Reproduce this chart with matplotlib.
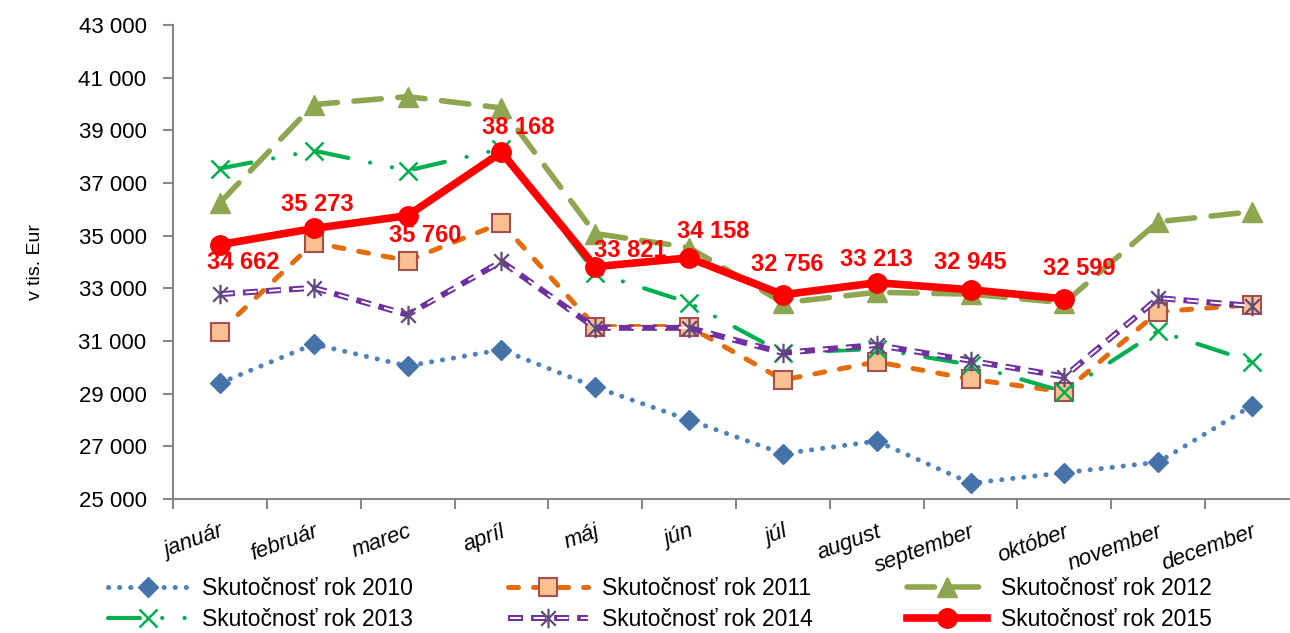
import matplotlib
matplotlib.use("Agg")
import matplotlib.pyplot as plt
from matplotlib.path import Path
from matplotlib.ticker import FuncFormatter, FixedLocator

plt.rcParams['font.family'] = ['Liberation Sans', 'DejaVu Sans']
plt.rcParams['lines.scale_dashes'] = False

months = ['január', 'február', 'marec', 'apríl', 'máj', 'jún', 'júl',
          'august', 'september', 'október', 'november', 'december']

rok_2010 = [29400, 30880, 30050, 30670, 29250, 28000, 26720, 27200, 25600, 26000, 26400, 28550]
rok_2011 = [31350, 34730, 34050, 35480, 31550, 31550, 29520, 30210, 29550, 29070, 32110, 32380]
rok_2012 = [36250, 39980, 40280, 39850, 35080, 34550, 32450, 32850, 32780, 32450, 35530, 35910]
rok_2013 = [37550, 38230, 37470, 38300, 33600, 32450, 30550, 30700, 30100, 29070, 31380, 30210]
rok_2014 = [32780, 33020, 32000, 34020, 31500, 31500, 30550, 30850, 30250, 29650, 32630, 32330]
rok_2015 = [34662, 35273, 35760, 38168, 33821, 34158, 32756, 33213, 32945, 32599]

yticks = list(range(25000, 43001, 2000))

# posun popiskov v pixeloch (dx, dy)
lab_off = [(23, -18), (4, 24), (18, -20), (17, 25), (35, 16),
           (24, 26), (4, 30), (0, 23), (0, 27), (15, 30)]


def fmt(v):
    return f"{int(v):,}".replace(",", " ")


fig = plt.figure(figsize=(12.9, 6.33), dpi=100)
ax = fig.add_axes([173/1290, 1 - 499/633, (1299 - 173)/1290, (499 - 25)/633])

x = list(range(12))

ax.plot(x, rok_2010, color='#4F81BD', lw=3.6, linestyle=(0, (0.1, 7.9)),
        dash_capstyle='round', marker='D', ms=9.8, mfc='#4572A7', mec='#4572A7',
        label='Skutočnosť rok 2010')
ax.plot(x, rok_2011, color='#E46C0A', lw=3.6, linestyle=(0, (7.2, 10.8)),
        dash_capstyle='round', marker='s', ms=12.5, mfc='#FAC090', mec='#A5504D', mew=1.5,
        label='Skutočnosť rok 2011')
ax.plot(x, rok_2012, color='#8DA64F', lw=4, linestyle=(0, (19.8, 11.9)),
        dash_capstyle='round', marker='^', ms=14, mfc='#8DA64F', mec='#8DA64F',
        label='Skutočnosť rok 2012')
ax.plot(x, rok_2013, color='#00B050', lw=3, linestyle=(0, (23, 16, 0.1, 16, 0.1, 16)),
        dash_capstyle='round', marker='x', ms=13, mew=1.8, mec='#00B050',
        label='Skutočnosť rok 2013')

star = Path([(-0.75, -0.75), (0.75, 0.75), (-0.75, 0.75), (0.75, -0.75), (0, -1), (0, 1)],
            [Path.MOVETO, Path.LINETO, Path.MOVETO, Path.LINETO, Path.MOVETO, Path.LINETO])
p14a, = ax.plot(x, rok_2014, color='#7030A0', lw=4.3, linestyle=(0, (10.8, 5.8)),
                dash_capstyle='butt')
p14b, = ax.plot(x, rok_2014, color='white', lw=1.4, linestyle=(15.56, (8.1, 8.9)),
                dash_capstyle='butt')
p14m, = ax.plot(x, rok_2014, linestyle='none', marker=star, ms=14, mew=1.6,
                mec='#604A7B', mfc='none')

h2015, = ax.plot(range(len(rok_2015)), rok_2015, color='#FF0000', lw=5.5, marker='o', ms=14,
                 mfc='#FF0000', mec='#FF0000', label='Skutočnosť rok 2015', zorder=5)

for i, v in enumerate(rok_2015):
    ax.annotate(fmt(v), (i, v), xytext=lab_off[i], textcoords='offset pixels',
                ha='center', va='center', color='#FF0000', fontsize=17,
                fontweight='bold', zorder=6)

ax.set_xlim(-0.5, 11.5)
ax.set_ylim(25000, 43000)
ax.set_yticks(yticks)
ax.yaxis.set_major_formatter(FuncFormatter(lambda v, p: fmt(v)))
ax.set_xticks(x)
ax.set_xticklabels(months, rotation=20, ha='right', va='top', rotation_mode='anchor',
                   fontsize=16, style='italic')
ax.xaxis.set_minor_locator(FixedLocator([i + 0.5 for i in range(-1, 12)]))
ax.tick_params(axis='x', which='major', length=0, pad=16)
ax.tick_params(axis='x', which='minor', length=7, width=1.5, color='#878787')
ax.tick_params(axis='y', length=7, width=1.5, color='#878787', labelsize=16, pad=12)

for s in ['top', 'right']:
    ax.spines[s].set_visible(False)
for s in ['left', 'bottom']:
    ax.spines[s].set_color('#878787')
    ax.spines[s].set_linewidth(1.5)

fig.text(35/1290, 1 - 262/633, 'v tis. Eur', rotation=90, ha='center', va='center',
         fontsize=14)

h = ax.get_lines()
handles = [h[0], h[3], h[1], (p14a, p14b, p14m), h[2], h2015]
labels = ['Skutočnosť rok 2010', 'Skutočnosť rok 2013', 'Skutočnosť rok 2011',
          'Skutočnosť rok 2014', 'Skutočnosť rok 2012', 'Skutočnosť rok 2015']
fig.legend(handles, labels, ncol=3, loc='lower left',
           bbox_to_anchor=(106/1290, 0.0, 1108/1290, 70/633), mode='expand',
           frameon=False, fontsize=16.5, handlelength=3.5, handletextpad=0.6,
           labelspacing=0.32, borderaxespad=0.0, borderpad=0.1)

fig.savefig('out.png', dpi=100)
